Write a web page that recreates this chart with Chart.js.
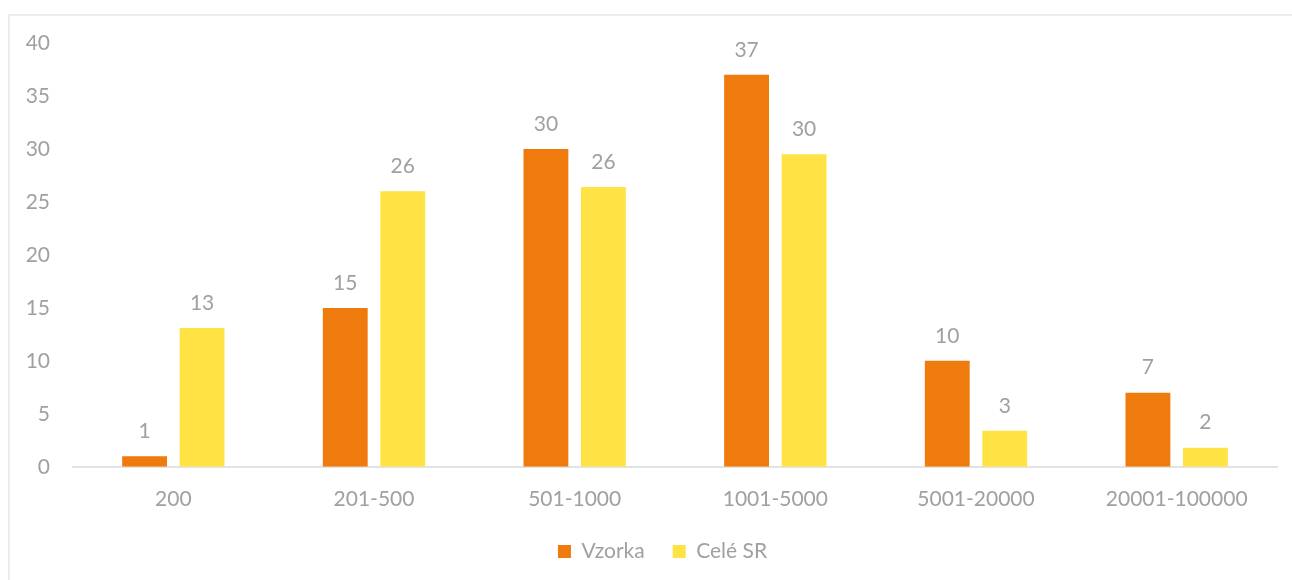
<!DOCTYPE html>
<html>
<head>
<meta charset="utf-8">
<script src="https://cdn.jsdelivr.net/npm/chart.js@4.4.1/dist/chart.umd.min.js"></script>
<style>
    body { margin: 0; background: #fff; }
    .frame {
        position: absolute; left: 8px; top: 14px; width: 1290px; height: 580px;
        border-left: 2px solid #ececec; border-top: 2px solid #ececec;
    }
    .wrap { position: absolute; left: 0; top: 0; width: 1292px; height: 580px; }
</style>
</head>
<body>
<div class="frame"></div>
<div class="wrap"><canvas id="chart"></canvas></div>
<script>
// Chart data
const categories = ['200', '201-500', '501-1000', '1001-5000', '5001-20000', '20001-100000'];
const vzorka = [1, 15, 30, 37, 10, 7];
const celeSR = [13.1, 26.0, 26.4, 29.5, 3.4, 1.8];
const yTicks = [0, 5, 10, 15, 20, 25, 30, 35, 40];

const textColor = '#a0a0a0';
const fontFamily = 'Lato, "Open Sans", sans-serif';

// Value labels above bars
const barLabels = {
    id: 'barLabels',
    afterDatasetsDraw(chart) {
        const ctx = chart.ctx;
        ctx.save();
        ctx.font = `21px ${fontFamily}`;
        ctx.fillStyle = textColor;
        ctx.textAlign = 'center';
        ctx.textBaseline = 'middle';
        chart.data.datasets.forEach((ds, i) => {
            chart.getDatasetMeta(i).data.forEach((bar, j) => {
                ctx.fillText(Math.round(ds.data[j]), bar.x, bar.y - 25);
            });
        });
        ctx.restore();
    }
};

const chart = new Chart(document.getElementById('chart'), {
    type: 'bar',
    data: {
        labels: categories,
        datasets: [
            { label: 'Vzorka', data: vzorka, backgroundColor: '#ef7a0d' },
            { label: 'Celé SR', data: celeSR, backgroundColor: '#ffe344' }
        ]
    },
    options: {
        responsive: true,
        maintainAspectRatio: false,
        animation: false,
        categoryPercentage: 0.573,
        barPercentage: 0.78,
        layout: { padding: { top: 43, right: 15, left: 0, bottom: 8 } },
        plugins: {
            legend: {
                position: 'bottom',
                labels: {
                    color: textColor,
                    font: { family: fontFamily, size: 21 },
                    boxWidth: 13,
                    boxHeight: 13,
                    padding: 28
                }
            },
            tooltip: { enabled: false }
        },
        scales: {
            x: {
                afterFit: s => { s.height -= 19; },
                grid: { display: false, drawTicks: false },
                border: { display: true, color: '#e3e3e3', width: 2 },
                ticks: { color: textColor, font: { family: fontFamily, size: 21 }, padding: 20 }
            },
            y: {
                min: 0,
                max: 40,
                afterBuildTicks: s => { s.ticks = yTicks.map(v => ({ value: v })); },
                afterFit: s => { s.width = 73; },
                grid: { display: false, drawTicks: false },
                border: { display: false },
                ticks: { color: textColor, font: { family: fontFamily, size: 21 }, padding: 23 }
            }
        }
    },
    plugins: [barLabels]
});

// legend sits a bit right of centre in the original
const legendDraw = chart.legend.draw;
chart.legend.draw = function () {
    chart.ctx.save();
    chart.ctx.translate(24, 0);
    legendDraw.apply(this, arguments);
    chart.ctx.restore();
};
chart.draw();
</script>
</body>
</html>
